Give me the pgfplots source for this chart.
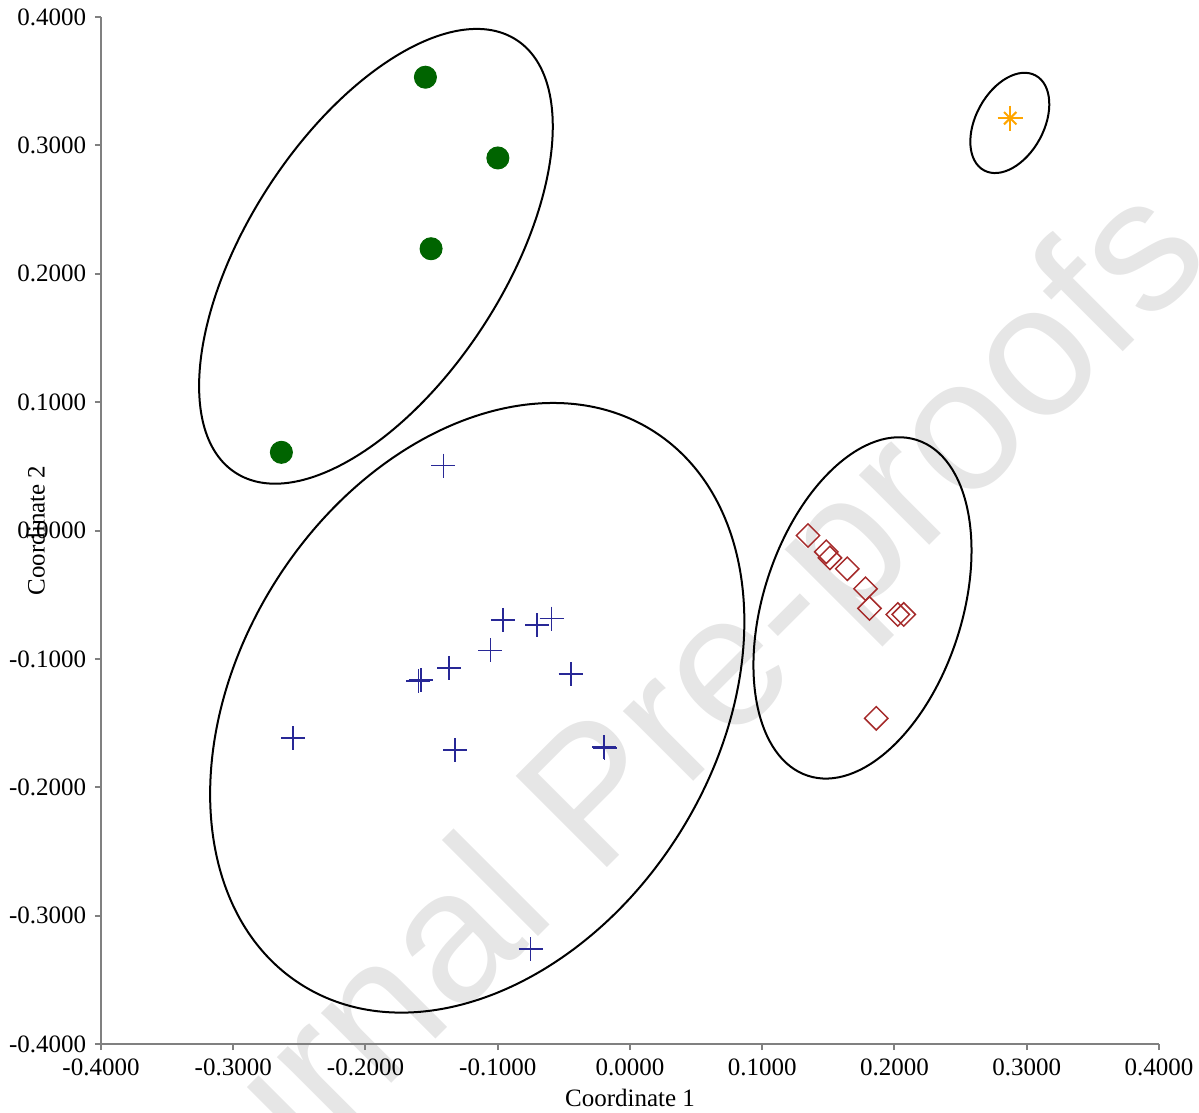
\documentclass[border=0pt]{standalone}
\usepackage{fontspec}
\setmainfont{Liberation Serif}
\newfontfamily\wmfont{Liberation Sans}
\usepackage{pgfplots}
\pgfplotsset{compat=1.18}
\definecolor{mygreen}{RGB}{0,100,0}
\definecolor{myblue}{RGB}{40,40,150}
\definecolor{myred}{RGB}{165,42,42}
\definecolor{myorange}{RGB}{255,165,0}
\definecolor{wm}{RGB}{230,230,230}
\definecolor{axgray}{RGB}{128,128,128}
\begin{document}
\begin{tikzpicture}
\useasboundingbox (-40.4pt,-27.2pt) rectangle (439.2pt,417.6pt);
\node[rotate=45, anchor=base, text=wm, font=\wmfont\fontsize{75}{90}\selectfont] at (227.6pt,95.6pt) {Journal Pre-proofs};
\begin{axis}[
  at={(0pt,0pt)}, anchor=south west,
  scale only axis, width=423.2pt, height=410.8pt,
  xmin=-0.4, xmax=0.4, ymin=-0.4, ymax=0.4,
  xtick={-0.4,-0.3,-0.2,-0.1,0,0.1,0.2,0.3,0.4},
  ytick={-0.4,-0.3,-0.2,-0.1,0,0.1,0.2,0.3,0.4},
  axis x line*=bottom, axis y line*=left,
  axis line style={-, draw=axgray, line width=0.8pt},
  tick style={draw=axgray, line width=0.8pt},
  tick align=outside, major tick length=2.4pt,
  xticklabel style={/pgf/number format/.cd, fixed, fixed zerofill, precision=4, assume math mode=true},
  yticklabel style={/pgf/number format/.cd, fixed, fixed zerofill, precision=4, assume math mode=true},
  scaled ticks=false,
  clip=false,
  xlabel={Coordinate 1}, ylabel={Coordinate 2},
  every axis x label/.style={at={([yshift=-21.6pt]axis description cs:0.5,0)}, anchor=center},
  every axis y label/.style={at={([xshift=-26pt]axis description cs:0,0.5)}, anchor=center, rotate=90},
]
\draw[black, line width=0.8pt, rotate around={57:(axis cs:-0.1921,0.2136)}] (axis cs:-0.1921,0.2136) ellipse [x radius=103.2pt, y radius=51.2pt];
\draw[black, line width=0.8pt, rotate around={57.5:(axis cs:-0.1155,-0.1381)}] (axis cs:-0.1155,-0.1381) ellipse [x radius=131.2pt, y radius=95.2pt];
\draw[black, line width=0.8pt, rotate around={72:(axis cs:0.1758,-0.0603)}] (axis cs:0.1758,-0.0603) ellipse [x radius=70.6pt, y radius=39.7pt];
\draw[black, line width=0.8pt, rotate around={61.4:(axis cs:0.2872,0.3175)}] (axis cs:0.2872,0.3175) ellipse [x radius=21.6pt, y radius=13.6pt];

\addplot[only marks, mark=*, mark size=4.4pt, draw=mygreen, fill=mygreen] coordinates {
 (-0.1547,0.3531) (-0.0999,0.2902) (-0.1504,0.2195) (-0.2636,0.0609)
};
\addplot[only marks, mark=+, mark size=4.8pt, myblue, line width=0.7pt] coordinates {
 (-0.1411,0.0506) (-0.2546,-0.1617) (-0.1583,-0.1166) (-0.1600,-0.1172)
 (-0.1367,-0.1071) (-0.1055,-0.0934) (-0.0962,-0.0696) (-0.0703,-0.0737)
 (-0.0593,-0.0686) (-0.0448,-0.1118) (-0.1321,-0.1712) (-0.0197,-0.1687)
 (-0.0192,-0.1695) (-0.0752,-0.3262)
};
\addplot[only marks, mark=square, mark size=3.3pt, mark options={rotate=45}, myred, line width=0.6pt] coordinates {
 (0.1346,-0.0039) (0.1484,-0.0166) (0.1512,-0.0213) (0.1643,-0.0298)
 (0.1781,-0.0454) (0.1811,-0.0607) (0.2025,-0.0654) (0.2070,-0.0654)
 (0.1862,-0.1463)
};
\addplot[only marks, mark=+, mark size=5pt, myorange, line width=0.8pt] coordinates {(0.2875,0.3212)};
\addplot[only marks, mark=x, mark size=3.5pt, myorange, line width=0.8pt] coordinates {(0.2875,0.3212)};
\end{axis}
\end{tikzpicture}
\end{document}
